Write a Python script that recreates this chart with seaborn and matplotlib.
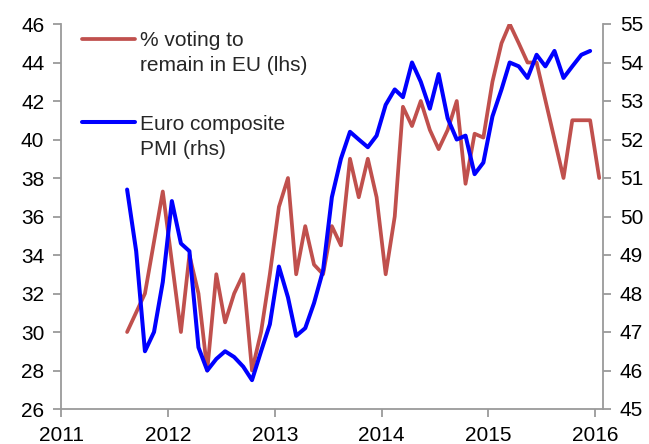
import numpy as np
import pandas as pd
import matplotlib
matplotlib.use("Agg")
import matplotlib.pyplot as plt
from matplotlib.legend_handler import HandlerLine2D
import seaborn as sns

# ---- data (monthly, Aug 2011 - Jan 2016) ----
months = pd.date_range("2011-08-01", "2016-01-01", freq="MS")
remain_eu = [30, np.nan, 32, np.nan, 37.3, np.nan, 30, 34, 32, 28, 33, 30.5, 32, 33, 28,
             30, 33, 36.5, 38, 33, 35.5, 33.5, 33, 35.5, 34.5, 39, 37, 39, 37, 33, 36,
             41.7, 40.7, 42, 40.5, 39.5, 40.5, 42, 37.7, 40.3, 40.1, 43, 45, 46, 45, 44,
             44, np.nan, np.nan, 38, 41, 41, 41, 38]
euro_pmi = [50.7, 49.1, 46.5, 47.0, 48.3, 50.4, 49.3, 49.1, 46.6, 46.0, 46.3, 46.5, 46.35,
            46.1, 45.75, 46.5, 47.2, 48.7, 47.9, 46.9, 47.1, 47.75, 48.6, 50.5, 51.5, 52.2,
            52.0, 51.8, 52.1, 52.9, 53.3, 53.1, 54.0, 53.5, 52.8, 53.7, 52.55, 52.0, 52.1,
            51.1, 51.4, 52.6, 53.3, 54.0, 53.9, 53.6, 54.2, 53.9, 54.3, 53.6, 53.9, 54.2, 54.3]
years = [2011, 2012, 2013, 2014, 2015, 2016]
left_ticks = [26, 28, 30, 32, 34, 36, 38, 40, 42, 44, 46]
right_ticks = [45, 46, 47, 48, 49, 50, 51, 52, 53, 54, 55]
label_red = "% voting to\nremain in EU (lhs)"
label_blue = "Euro composite\nPMI (rhs)"

dates = months + pd.Timedelta(days=14)
df_red = pd.DataFrame({"date": dates, "value": remain_eu}).dropna()
df_blue = pd.DataFrame({"date": dates[:len(euro_pmi)], "value": euro_pmi})

sns.set_style("white")
plt.rcParams["font.family"] = ["Liberation Sans Narrow", "Liberation Sans", "DejaVu Sans"]

RED = "#C0504D"
BLUE = "#0000FF"
GRAY = "#9A9A9A"

LEG_SIZE = 15
LINESP = 1.4


class TopLineHandler(HandlerLine2D):
    """Place the legend line at the level of the first text line."""

    def create_artists(self, legend, orig_handle, xdescent, ydescent, width, height,
                       fontsize, trans):
        artists = super().create_artists(legend, orig_handle, xdescent, ydescent, width,
                                         height, fontsize, trans)
        shift = 0.5 * LINESP * fontsize
        for a in artists:
            a.set_ydata(np.asarray(a.get_ydata()) + shift)
        return artists


fig = plt.figure(figsize=(6.49, 4.44), dpi=100)
ax = fig.add_axes([61 / 649, 1 - 409 / 444, (603 - 61) / 649, (409 - 24) / 444])
ax2 = ax.twinx()

sns.lineplot(data=df_red, x="date", y="value", ax=ax, color=RED, lw=2.7, label=label_red,
             legend=False)
sns.lineplot(data=df_blue, x="date", y="value", ax=ax2, color=BLUE, lw=2.9, label=label_blue,
             legend=False)

ax.set_xlim(pd.Timestamp("2011-01-01"), pd.Timestamp("2016-01-28"))
ax.set_ylim(26, 46)
ax2.set_ylim(45, 55)
ax.set_xticks([pd.Timestamp(f"{y}-01-01") for y in years])
ax.set_xticklabels([str(y) for y in years])
ax.set_yticks(left_ticks)
ax.set_yticklabels([str(t) for t in left_ticks])
ax2.set_yticks(right_ticks)
ax2.set_yticklabels([str(t) for t in right_ticks])
ax.set_xlabel("")
ax.set_ylabel("")
ax2.set_ylabel("")

for a in (ax, ax2):
    for s in a.spines.values():
        s.set_visible(False)
    a.tick_params(colors=GRAY, labelcolor="black", labelsize=15, length=6, width=1.3,
                  direction="out", pad=6)
    a.grid(False)
for s in ("left", "bottom"):
    ax.spines[s].set_visible(True)
    ax.spines[s].set_color(GRAY)
    ax.spines[s].set_linewidth(1.3)
ax2.spines["right"].set_visible(True)
ax2.spines["right"].set_color(GRAY)
ax2.spines["right"].set_linewidth(1.3)
ax.tick_params(axis="x", bottom=True)
ax.tick_params(axis="y", left=True)
ax2.tick_params(axis="y", right=True)

h1, l1 = ax.get_legend_handles_labels()
h2, l2 = ax2.get_legend_handles_labels()
leg = ax2.legend(h1 + h2, l1 + l2, loc="upper left", bbox_to_anchor=(0.039, 0.982),
                 frameon=False, borderpad=0, borderaxespad=0, handlelength=2.55,
                 handletextpad=0.25, labelspacing=1.9,
                 handler_map={h: TopLineHandler() for h in h1 + h2},
                 prop={"family": ["Liberation Sans", "DejaVu Sans"], "size": LEG_SIZE})
for t in leg.get_texts():
    t.set_linespacing(LINESP)

fig.savefig("out.png", dpi=100)
